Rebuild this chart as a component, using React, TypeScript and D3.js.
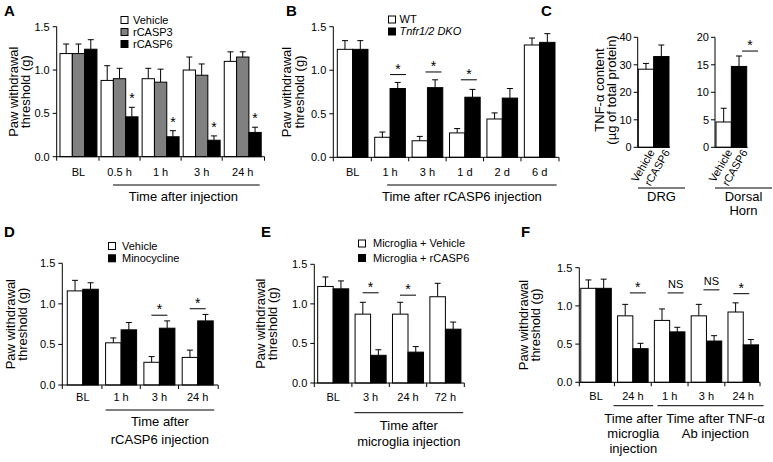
import React from "react";
import * as d3 from "d3";

const FONT = "'Liberation Sans', Arial, Helvetica, sans-serif";
const GREY = "#808080";

// ---------- Panel A ----------
const catsA = ["BL", "0.5 h", "1 h", "3 h", "24 h"];
const vehicleA = [1.19, 0.88, 0.9, 1.0, 1.1];
const vehicleAErr = [0.11, 0.17, 0.12, 0.15, 0.11];
const rcasp3A = [1.19, 0.9, 0.86, 0.94, 1.15];
const rcasp3AErr = [0.11, 0.12, 0.15, 0.13, 0.06];
const rcasp6A = [1.24, 0.46, 0.23, 0.19, 0.28];
const rcasp6AErr = [0.11, 0.11, 0.07, 0.05, 0.06];
const starsA = ["", "*", "*", "*", "*"];

// ---------- Panel B ----------
const catsB = ["BL", "1 h", "3 h", "1 d", "2 d", "6 d"];
const wtB = [1.24, 0.23, 0.19, 0.28, 0.44, 1.29];
const wtBErr = [0.1, 0.06, 0.05, 0.05, 0.07, 0.08];
const dkoB = [1.24, 0.79, 0.8, 0.69, 0.68, 1.32];
const dkoBErr = [0.1, 0.07, 0.09, 0.09, 0.11, 0.1];
const sigB: (number | null)[] = [null, 0.95, 0.98, 0.89, null, null];
const sigTextB = ["", "*", "*", "*", "", ""];

// ---------- Panel C ----------
const catsC = ["Vehicle", "rCASP6"];
const drgC = [28.4, 33.0];
const drgCErr = [2.1, 4.2];
const dhC = [4.6, 14.7];
const dhCErr = [2.5, 1.9];
const sigDhC = 17.5;
const ticksDrgC = [0, 10, 20, 30, 40];
const ticksDhC = [0, 5, 10, 15, 20];

// ---------- Panel D ----------
const catsD = ["BL", "1 h", "3 h", "24 h"];
const vehicleD = [1.16, 0.52, 0.28, 0.34];
const vehicleDErr = [0.13, 0.06, 0.07, 0.09];
const minoD = [1.18, 0.68, 0.7, 0.79];
const minoDErr = [0.08, 0.09, 0.09, 0.08];
const sigD: (number | null)[] = [null, null, 0.86, 0.94];
const sigTextD = ["", "", "*", "*"];

// ---------- Panel E ----------
const catsE = ["BL", "3 h", "24 h", "72 h"];
const vehicleE = [1.22, 0.87, 0.87, 1.09];
const vehicleEErr = [0.12, 0.15, 0.15, 0.17];
const rcasp6E = [1.19, 0.35, 0.39, 0.68];
const rcasp6EErr = [0.1, 0.07, 0.07, 0.09];
const sigE: (number | null)[] = [null, 1.14, 1.11, null];
const sigTextE = ["", "*", "*", ""];

// ---------- Panel F ----------
const catsF = ["BL", "24 h", "1 h", "3 h", "24 h"];
const vehicleF = [1.23, 0.87, 0.81, 0.87, 0.92];
const vehicleFErr = [0.11, 0.15, 0.15, 0.15, 0.12];
const treatF = [1.23, 0.44, 0.66, 0.54, 0.49];
const treatFErr = [0.12, 0.07, 0.06, 0.07, 0.07];
const sigF: (number | null)[] = [null, 1.17, 1.17, 1.21, 1.16];
const sigTextF = ["", "*", "NS", "NS", "*"];

const pawTicks = [0, 0.5, 1, 1.5];
const fmt1 = d3.format(".1f");

type Series = { name: string; values: number[]; errors: number[]; fill: string };
type Layout = {
  axisX: number; endX: number; pi: number; po: number;
  y0: number; yTop: number; max: number; xlabY: number;
  titleX: [number, number]; sigDx?: number[];
};
type GroupLabel = { from: number; fromOff: number; to: number; toOff: number; y: number; lines: string[]; base: number; lh: number; dx?: number };

function YTitle({ xs, cy, lines, size = 13 }: { xs: number[]; cy: number; lines: string[]; size?: number }) {
  return (
    <g>
      {lines.map((t, k) => (
        <text key={k} transform={`translate(${xs[k]},${cy}) rotate(-90)`} textAnchor="middle" fontSize={size}>
          {t}
        </text>
      ))}
    </g>
  );
}

function Legend({ x, tx, rows, items }: { x: number; tx: number; rows: number[]; items: { name: string; fill: string; italic?: boolean }[] }) {
  return (
    <g>
      {items.map((it, k) => (
        <g key={k}>
          <rect x={x} y={rows[k] - 3.5} width={7} height={7} fill={it.fill} stroke="#000" strokeWidth={1} />
          <text x={tx} y={rows[k]} dy="0.35em" fontSize={11} fontStyle={it.italic ? "italic" : "normal"}>
            {it.name}
          </text>
        </g>
      ))}
    </g>
  );
}

function Panel({ labels, series, L, stars, sig, sigText, groups }: {
  labels: string[]; series: Series[]; L: Layout; stars?: string[];
  sig?: (number | null)[]; sigText?: string[]; groups: GroupLabel[];
}) {
  const n = labels.length;
  const idx = d3.range(n);
  const x = d3.scaleBand<number>().domain(idx).range([L.axisX, L.endX]).paddingInner(L.pi).paddingOuter(L.po);
  const bw = x.bandwidth();
  const xs = d3.scaleBand<number>().domain(d3.range(series.length)).range([0, bw]);
  const sw = xs.bandwidth();
  const y = d3.scaleLinear().domain([0, L.max]).range([L.y0, L.yTop]);
  const bounds = [L.axisX, ...d3.range(1, n).map((i) => (x(i - 1)! + bw + x(i)!) / 2), L.endX];
  const last = series.length - 1;
  return (
    <g>
      {series.map((s, si) =>
        s.values.map((v, i) => {
          const bx = x(i)! + xs(si)!;
          const top = y(v);
          const et = y(v + s.errors[i]);
          const cx = bx + sw / 2;
          return (
            <g key={`${si}-${i}`}>
              <line x1={cx} x2={cx} y1={top} y2={et} stroke="#000" />
              <line x1={cx - 3} x2={cx + 3} y1={et} y2={et} stroke="#000" />
              <rect x={bx} y={top} width={sw} height={L.y0 - top} fill={s.fill} stroke="#000" />
            </g>
          );
        })
      )}
      {stars &&
        stars.map((t, i) =>
          t ? (
            <text key={i} x={x(i)! + xs(last)! + sw / 2} y={y(series[last].values[i] + series[last].errors[i]) - 4} textAnchor="middle" fontSize={14}>
              {t}
            </text>
          ) : null
        )}
      {sig &&
        sig.map((s, i) => {
          if (s == null) return null;
          const cx = x(i)! + bw / 2 + (L.sigDx ? L.sigDx[i] : 0);
          const yy = y(s);
          const t = sigText ? sigText[i] : "*";
          return (
            <g key={i}>
              <line x1={cx - 8} x2={cx + 8} y1={yy} y2={yy} stroke="#000" />
              <text x={cx} y={t === "*" ? yy - 1 : yy - 5} textAnchor="middle" fontSize={t === "*" ? 14 : 11}>
                {t}
              </text>
            </g>
          );
        })}
      {/* y axis */}
      <line x1={L.axisX} x2={L.axisX} y1={L.y0} y2={L.yTop} stroke="#000" />
      {pawTicks.map((t) => (
        <g key={t}>
          <line x1={L.axisX - 4} x2={L.axisX} y1={y(t)} y2={y(t)} stroke="#000" />
          <text x={L.axisX - 7} y={y(t)} dy="0.35em" textAnchor="end" fontSize={11}>
            {fmt1(t)}
          </text>
        </g>
      ))}
      {/* x axis */}
      <line x1={L.axisX} x2={L.endX} y1={L.y0} y2={L.y0} stroke="#000" />
      {bounds.map((b, k) => (
        <line key={k} x1={b} x2={b} y1={L.y0} y2={L.y0 + 4} stroke="#000" />
      ))}
      {labels.map((lab, i) => (
        <text key={i} x={x(i)! + bw / 2} y={L.xlabY} textAnchor="middle" fontSize={11}>
          {lab}
        </text>
      ))}
      {groups.map((g, k) => {
        const x1 = x(g.from)! + g.fromOff;
        const x2 = x(g.to)! + bw + g.toOff;
        const cx = (x1 + x2) / 2 + (g.dx || 0);
        return (
          <g key={k}>
            <line x1={x1} x2={x2} y1={g.y} y2={g.y} stroke="#000" />
            {g.lines.map((t, j) => (
              <text key={j} x={cx} y={g.base + j * g.lh} textAnchor="middle" fontSize={13}>
                {t}
              </text>
            ))}
          </g>
        );
      })}
      <YTitle xs={L.titleX} cy={(L.y0 + L.yTop) / 2} lines={["Paw withdrawal", "threshold (g)"]} />
    </g>
  );
}

function MiniC({ axisX, x0, x1, y0, yTop, max, ticks, values, errors, sigY, sigDx, underline, lines }: {
  axisX: number; x0: number; x1: number; y0: number; yTop: number; max: number; ticks: number[];
  values: number[]; errors: number[]; sigY?: number; sigDx?: number; underline: [number, number]; lines: string[];
}) {
  const x = d3.scaleBand<number>().domain(d3.range(catsC.length)).range([x0, x1]);
  const y = d3.scaleLinear().domain([0, max]).range([y0, yTop]);
  const bw = x.bandwidth();
  const fills = ["#fff", "#000"];
  const ucx = (underline[0] + underline[1]) / 2;
  return (
    <g>
      {values.map((v, i) => {
        const cx = x(i)! + bw / 2;
        const et = y(v + errors[i]);
        return (
          <g key={i}>
            <line x1={cx} x2={cx} y1={y(v)} y2={et} stroke="#000" />
            <line x1={cx - 3} x2={cx + 3} y1={et} y2={et} stroke="#000" />
            <rect x={x(i)!} y={y(v)} width={bw} height={y0 - y(v)} fill={fills[i]} stroke="#000" />
            <text transform={`translate(${cx + 9},${y0 + 5}) rotate(-60)`} textAnchor="end" fontSize={11}>
              {catsC[i]}
            </text>
          </g>
        );
      })}
      {sigY != null && (
        <g>
          <line x1={x(1)! + bw / 2 + (sigDx || 0) - 8} x2={x(1)! + bw / 2 + (sigDx || 0) + 8} y1={y(sigY)} y2={y(sigY)} stroke="#000" />
          <text x={x(1)! + bw / 2 + (sigDx || 0)} y={y(sigY) - 1} textAnchor="middle" fontSize={14}>*</text>
        </g>
      )}
      <line x1={axisX} x2={axisX} y1={y0} y2={yTop} stroke="#000" />
      {ticks.map((t) => (
        <g key={t}>
          <line x1={axisX - 4} x2={axisX} y1={y(t)} y2={y(t)} stroke="#000" />
          <text x={axisX - 6} y={y(t)} dy="0.35em" textAnchor="end" fontSize={11}>
            {t}
          </text>
        </g>
      ))}
      <line x1={axisX} x2={x1 + 1} y1={y0} y2={y0} stroke="#000" />
      <line x1={underline[0]} x2={underline[1]} y1={188} y2={188} stroke="#000" />
      {lines.map((t, j) => (
        <text key={j} x={ucx} y={201 + j * 14} textAnchor="middle" fontSize={13}>
          {t}
        </text>
      ))}
    </g>
  );
}

export default function App() {
  const LA: Layout = { axisX: 56.7, endX: 264.5, pi: 0.1, po: 0.08, y0: 156.7, yTop: 26.7, max: 1.5, xlabY: 175.5, titleX: [17.5, 30] };
  const LB: Layout = { axisX: 333.3, endX: 559, pi: 0.18, po: 0.107, y0: 157.3, yTop: 26.7, max: 1.5, xlabY: 175.5, titleX: [291, 303.5], sigDx: [0, 8, 6, 4, 0, 0] };
  const LD: Layout = { axisX: 62.3, endX: 218.2, pi: 0.19, po: 0.13, y0: 385, yTop: 263.3, max: 1.5, xlabY: 400.5, titleX: [15, 26.5] };
  const LE: Layout = { axisX: 314.3, endX: 464.3, pi: 0.17, po: 0.09, y0: 383, yTop: 264.3, max: 1.5, xlabY: 400.5, titleX: [265, 276.5] };
  const LF: Layout = { axisX: 579.3, endX: 760, pi: 0.17, po: 0.04, y0: 382.3, yTop: 267.7, max: 1.5, xlabY: 399.5, titleX: [528, 540], sigDx: [0, 5, 6, 5, -2] };

  return (
    <svg width={773} height={462} style={{ position: "absolute", left: 0, top: 0 }} fontFamily={FONT}>
      <rect width={773} height={462} fill="#fff" />
      {/* Panel letters */}
      {[
        ["A", 4, 16], ["B", 286, 16], ["C", 541, 16],
        ["D", 4, 237], ["E", 261, 237], ["F", 521, 237],
      ].map(([t, px, py]) => (
        <text key={t as string} x={px as number} y={py as number} fontSize={15} fontWeight="bold">
          {t}
        </text>
      ))}

      {/* A */}
      <Panel
        labels={catsA}
        L={LA}
        series={[
          { name: "Vehicle", values: vehicleA, errors: vehicleAErr, fill: "#fff" },
          { name: "rCASP3", values: rcasp3A, errors: rcasp3AErr, fill: GREY },
          { name: "rCASP6", values: rcasp6A, errors: rcasp6AErr, fill: "#000" },
        ]}
        stars={starsA}
        groups={[{ from: 1, fromOff: 12, to: 4, toOff: -1.5, y: 185, lines: ["Time after injection"], base: 201, lh: 16, dx: -3 }]}
      />
      <Legend x={121} tx={133} rows={[20, 32, 44]} items={[
        { name: "Vehicle", fill: "#fff" }, { name: "rCASP3", fill: GREY }, { name: "rCASP6", fill: "#000" },
      ]} />

      {/* B */}
      <Panel
        labels={catsB}
        L={LB}
        series={[
          { name: "WT", values: wtB, errors: wtBErr, fill: "#fff" },
          { name: "DKO", values: dkoB, errors: dkoBErr, fill: "#000" },
        ]}
        sig={sigB}
        sigText={sigTextB}
        groups={[{ from: 1, fromOff: 12.4, to: 5, toOff: 1.7, y: 185, lines: ["Time after rCASP6 injection"], base: 201, lh: 16, dx: -10 }]}
      />
      <Legend x={388.5} tx={399.5} rows={[19.5, 31.5]} items={[
        { name: "WT", fill: "#fff" }, { name: "Tnfr1/2 DKO", fill: "#000", italic: true },
      ]} />

      {/* C */}
      <YTitle xs={[604, 616]} cy={90} lines={["TNF-\u03b1 content", "(\u00b5g of total protein)"]} />
      <MiniC axisX={637.7} x0={638.3} x1={669} y0={147.3} yTop={37.3} max={40} ticks={ticksDrgC}
        values={drgC} errors={drgCErr} underline={[638, 685]} lines={["DRG"]} />
      <MiniC axisX={715} x0={716} x1={746.7} y0={147.3} yTop={37.3} max={20} ticks={ticksDhC}
        values={dhC} errors={dhCErr} sigY={sigDhC} sigDx={11} underline={[715, 772]} lines={["Dorsal", "Horn"]} />

      {/* D */}
      <Panel
        labels={catsD}
        L={LD}
        series={[
          { name: "Vehicle", values: vehicleD, errors: vehicleDErr, fill: "#fff" },
          { name: "Minocycline", values: minoD, errors: minoDErr, fill: "#000" },
        ]}
        sig={sigD}
        sigText={sigTextD}
        groups={[{ from: 1, fromOff: 0, to: 3, toOff: 1, y: 410, lines: ["Time after", "rCASP6 injection"], base: 426, lh: 17.5 }]}
      />
      <Legend x={108.5} tx={122} rows={[246, 258.3]} items={[
        { name: "Vehicle", fill: "#fff" }, { name: "Minocycline", fill: "#000" },
      ]} />

      {/* E */}
      <Panel
        labels={catsE}
        L={LE}
        series={[
          { name: "Microglia + Vehicle", values: vehicleE, errors: vehicleEErr, fill: "#fff" },
          { name: "Microglia + rCASP6", values: rcasp6E, errors: rcasp6EErr, fill: "#000" },
        ]}
        sig={sigE}
        sigText={sigTextE}
        groups={[{ from: 1, fromOff: -0.7, to: 3, toOff: 2.3, y: 412.7, lines: ["Time after", "microglia injection"], base: 429.5, lh: 16.5 }]}
      />
      <Legend x={358.5} tx={373} rows={[243.5, 258]} items={[
        { name: "Microglia + Vehicle", fill: "#fff" }, { name: "Microglia + rCASP6", fill: "#000" },
      ]} />

      {/* F */}
      <Panel
        labels={catsF}
        L={LF}
        series={[
          { name: "Vehicle", values: vehicleF, errors: vehicleFErr, fill: "#fff" },
          { name: "Treated", values: treatF, errors: treatFErr, fill: "#000" },
        ]}
        sig={sigF}
        sigText={sigTextF}
        groups={[
          { from: 1, fromOff: -4, to: 1, toOff: 5, y: 405.7, lines: ["Time after", "microglia", "injection"], base: 423, lh: 15 },
          { from: 2, fromOff: 3, to: 4, toOff: 5, y: 405.7, lines: ["Time after TNF-\u03b1", "Ab injection"], base: 423, lh: 15, dx: 5 },
        ]}
      />
    </svg>
  );
}
